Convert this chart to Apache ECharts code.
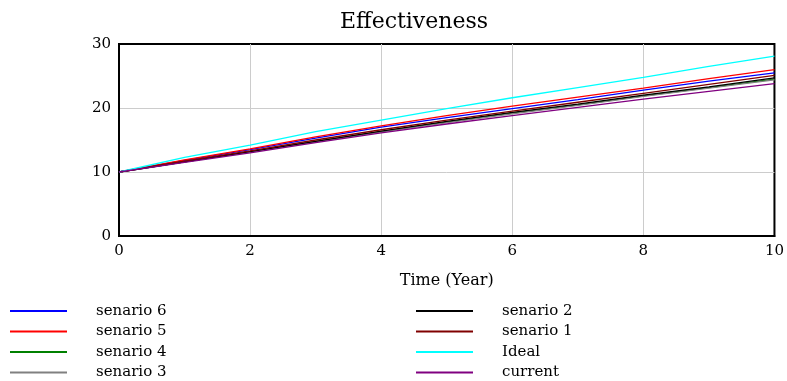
<!DOCTYPE html>
<html>
<head>
<meta charset="utf-8">
<script src="https://cdn.jsdelivr.net/npm/echarts@6/dist/echarts.min.js"></script>
<style>html,body{margin:0;padding:0;background:#fff}#c{width:787px;height:381px}</style>
</head>
<body>
<div id="c"></div>
<script>
var times = [0, 1, 2, 3, 4, 5, 6, 7, 8, 9, 10];
var senario6 = [10, 11.8, 13.5, 15.3, 17.0, 18.5, 19.9, 21.3, 22.8, 24.2, 25.5];
var senario5 = [10, 11.9, 13.6, 15.5, 17.2, 18.8, 20.3, 21.7, 23.1, 24.6, 26.0];
var senario4 = [10, 11.6, 13.2, 14.8, 16.3, 17.8, 19.2, 20.5, 21.9, 23.2, 24.5];
var senario3 = [10, 11.6, 13.2, 14.7, 16.3, 17.7, 19.1, 20.4, 21.8, 23.1, 24.4];
var senario2 = [10, 11.6, 13.2, 14.8, 16.4, 17.9, 19.3, 20.6, 22.0, 23.3, 24.7];
var senario1 = [10, 11.7, 13.3, 15.0, 16.6, 18.1, 19.5, 20.9, 22.3, 23.7, 25.1];
var ideal    = [10, 12.3, 14.2, 16.3, 18.1, 19.9, 21.6, 23.2, 24.8, 26.5, 28.1];
var current  = [10, 11.5, 13.0, 14.6, 16.1, 17.5, 18.8, 20.1, 21.4, 22.6, 23.8];
var xTicks = [0, 2, 4, 6, 8, 10];
var yTicks = [0, 10, 20, 30];

var seriesDefs = [
  {name: 'senario 6', data: senario6, color: '#0000ff'},
  {name: 'senario 5', data: senario5, color: '#ff0000'},
  {name: 'senario 4', data: senario4, color: '#008000'},
  {name: 'senario 3', data: senario3, color: '#808080'},
  {name: 'senario 2', data: senario2, color: '#000000'},
  {name: 'senario 1', data: senario1, color: '#800000'},
  {name: 'Ideal', data: ideal, color: '#00ffff'},
  {name: 'current', data: current, color: '#800080'}
];
var legendCols = [
  ['senario 6', 'senario 5', 'senario 4', 'senario 3'],
  ['senario 2', 'senario 1', 'Ideal', 'current']
];
var font = '"DejaVu Serif", "Liberation Serif", serif';
var chart = echarts.init(document.getElementById('c'), null, {renderer: 'canvas'});
var legends = [];
var colLeft = [10, 416];
var rowCenter = [311, 331.5, 352, 372.5];
legendCols.forEach(function (col, ci) {
  col.forEach(function (n, ri) {
    legends.push({
      orient: 'horizontal', left: colLeft[ci], top: rowCenter[ri] - 8, padding: 0,
      data: [{name: n, icon: 'rect'}],
      itemWidth: 57, itemHeight: 2,
      textStyle: {fontFamily: font, fontSize: 15, color: '#000', padding: [0, 0, 0, 24], lineHeight: 16},
      selectedMode: false
    });
  });
});
chart.setOption({
  animation: false,
  backgroundColor: '#fff',
  title: {
    text: 'Effectiveness', left: 409, top: 6, textAlign: 'center',
    textStyle: {fontFamily: font, fontSize: 22, fontWeight: 'normal', color: '#000'}
  },
  legend: legends,
  grid: {left: 119, right: 12, top: 44, bottom: 145, show: true, borderColor: '#000', borderWidth: 2},
  xAxis: {
    type: 'value', min: xTicks[0], max: xTicks[xTicks.length - 1], interval: 2,
    name: 'Time (Year)', nameLocation: 'middle', nameGap: 37,
    nameTextStyle: {fontFamily: font, fontSize: 16, color: '#000'},
    axisLine: {show: true, lineStyle: {color: '#000', width: 2}},
    axisTick: {show: false},
    axisLabel: {fontFamily: font, fontSize: 15, color: '#000', margin: 8},
    splitLine: {show: true, showMinLine: false, showMaxLine: false, lineStyle: {color: '#cccccc', width: 1}}
  },
  yAxis: {
    type: 'value', min: yTicks[0], max: yTicks[yTicks.length - 1], interval: 10,
    axisLine: {show: true, lineStyle: {color: '#000', width: 2}},
    axisTick: {show: false},
    axisLabel: {fontFamily: font, fontSize: 15, color: '#000', margin: 8},
    splitLine: {show: true, showMinLine: false, showMaxLine: false, lineStyle: {color: '#cccccc', width: 1}}
  },
  series: seriesDefs.map(function (s) {
    return {
      name: s.name, type: 'line', showSymbol: false, symbol: 'none',
      data: times.map(function (t, i) { return [t, s.data[i]]; }),
      lineStyle: {color: s.color, width: 1.3},
      itemStyle: {color: s.color}
    };
  })
});
</script>
</body>
</html>
